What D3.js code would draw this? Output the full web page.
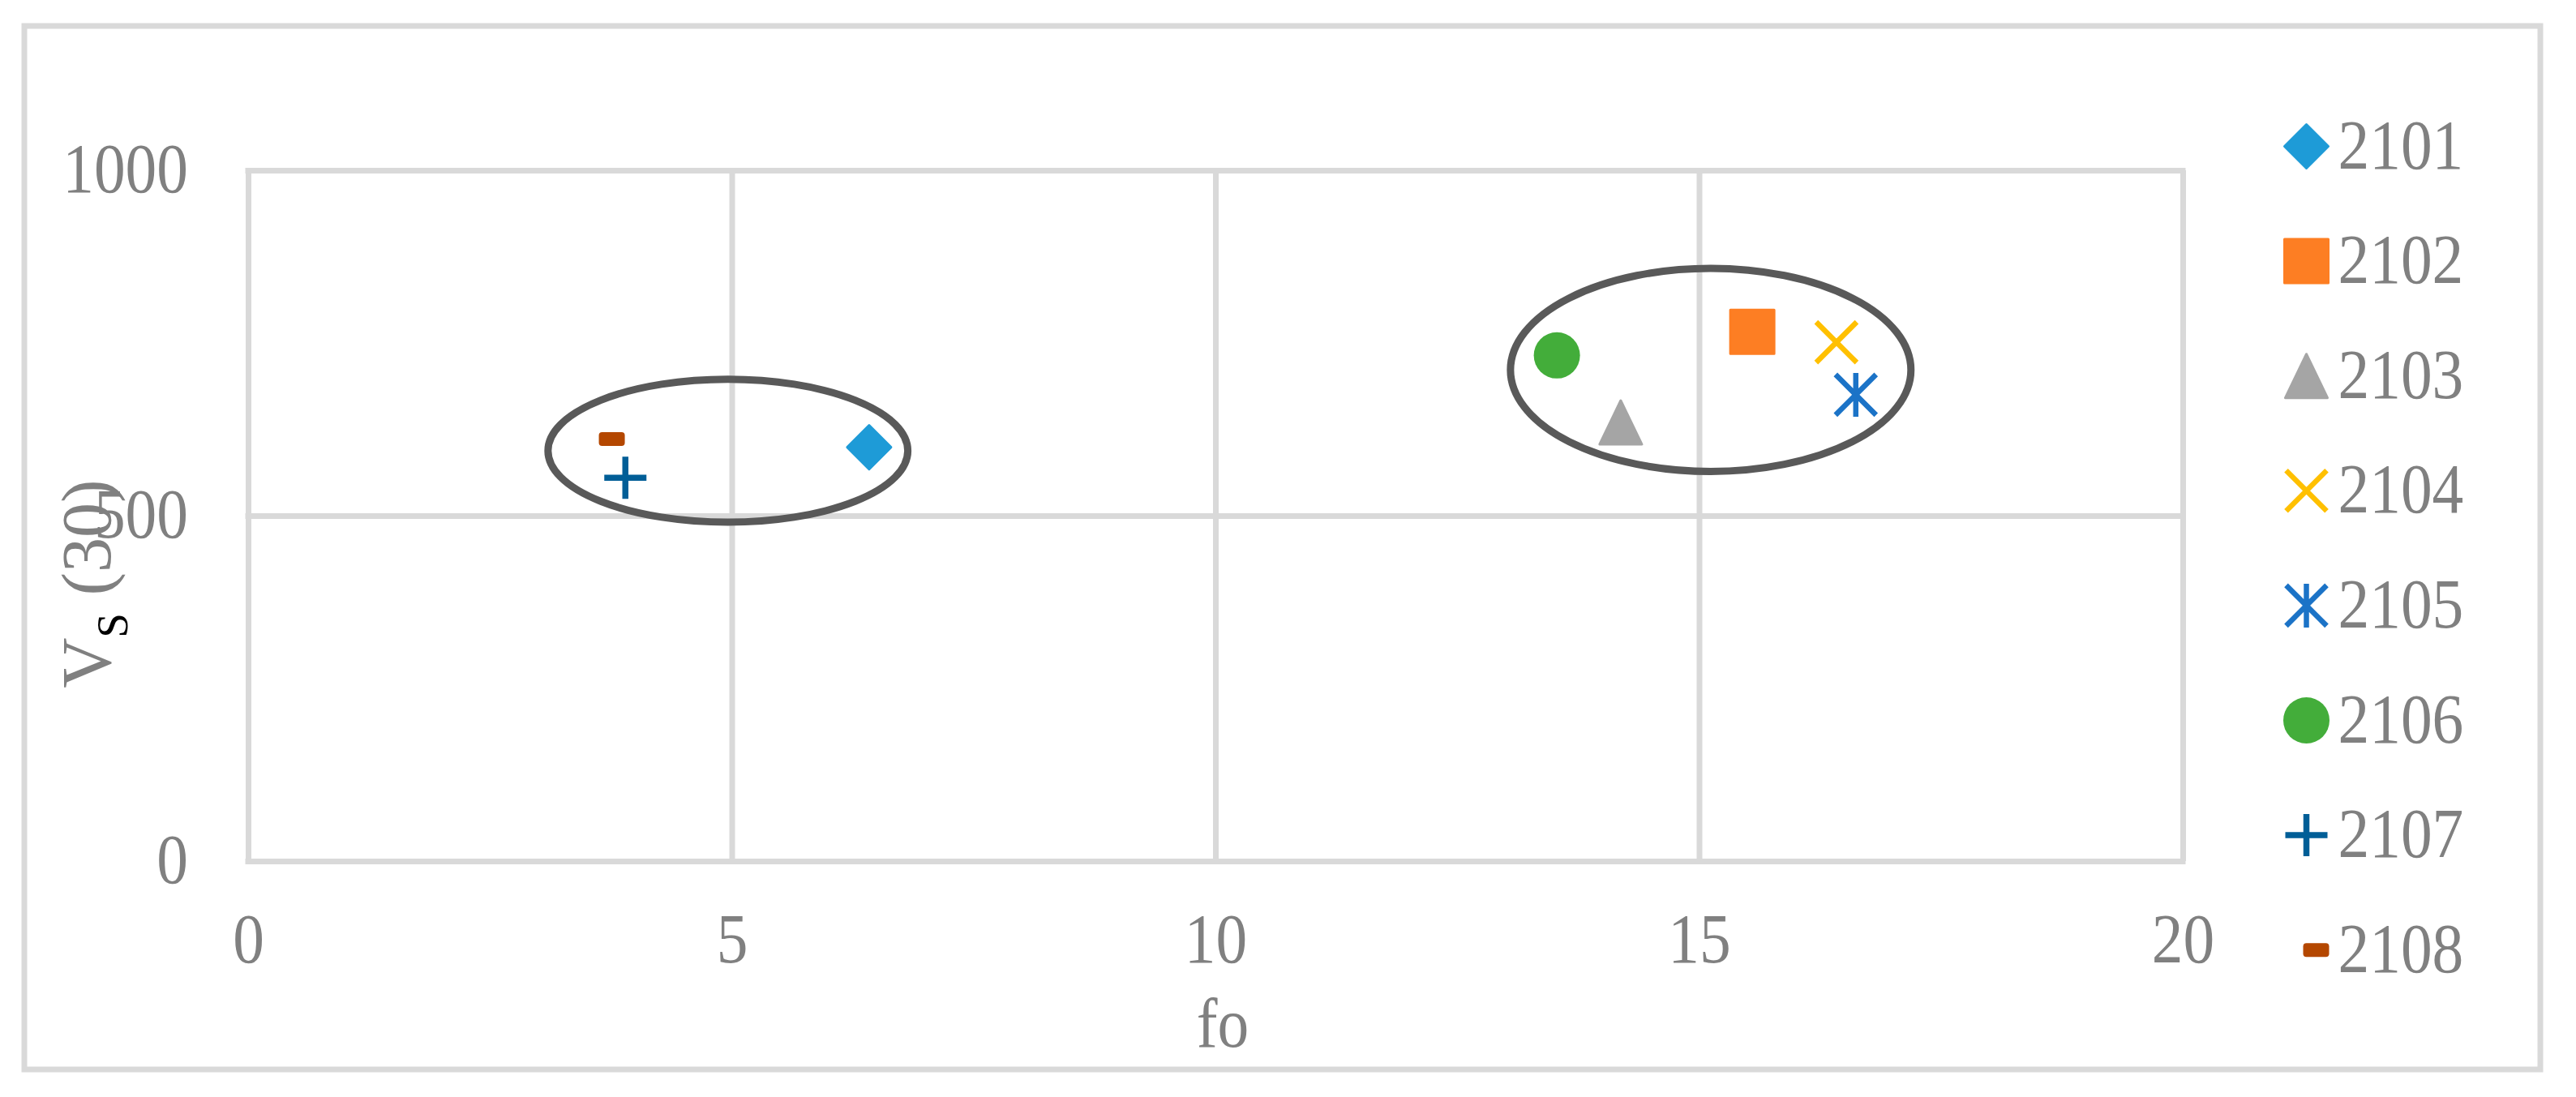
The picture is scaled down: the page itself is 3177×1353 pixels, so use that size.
<!DOCTYPE html>
<html>
<head>
<meta charset="utf-8">
<script src="https://cdn.jsdelivr.net/npm/d3@7"></script>
<style>
  html, body { margin: 0; padding: 0; background: #fff; }
  svg { display: block; }
</style>
</head>
<body>
<script>
// ---- data ----
const series = ["2101", "2102", "2103", "2104", "2105", "2106", "2107", "2108"];
const markerTypes = ["diamond", "square", "triangle", "x", "asterisk", "circle", "plus", "dash"];
const colors = ["#1e9bd7", "#fd7e23", "#a5a5a5", "#ffc000", "#1b73c7", "#43ad3a", "#005e97", "#b44700"];
const fo = [6.42, 15.55, 14.19, 16.42, 16.62, 13.53, 3.90, 3.76];
const vs30 = [599, 766, 635, 751, 675, 732, 555, 611];
const xTicks = [0, 5, 10, 15, 20];
const yTicks = [0, 500, 1000];
// cluster ellipses (data units)
const clusterFo = [4.96, 15.12];
const clusterVs = [594, 711];
const clusterFoRadius = [1.86, 2.07];
const clusterVsRadius = [103.5, 147];

// ---- layout ----
const W = 3177, H = 1353;
const plotL = 306, plotR = 2692, plotT = 210, plotB = 1062;
const FONT = "'Liberation Serif', 'Times New Roman', serif";
const GRAY = "#808080";
const GRID = "#d9d9d9";
const FS = 86;

const x = d3.scaleLinear().domain([0, 20]).range([plotL, plotR]);
const y = d3.scaleLinear().domain([0, 1000]).range([plotB, plotT]);

const svg = d3.select("body").append("svg").attr("width", W).attr("height", H);
svg.append("rect").attr("width", W).attr("height", H).attr("fill", "#fff");

// outer border
svg.append("rect").attr("x", 30).attr("y", 32).attr("width", 3103).attr("height", 1287)
  .attr("fill", "none").attr("stroke", GRID).attr("stroke-width", 7);

// x axis with vertical gridlines
const gx = svg.append("g").attr("transform", `translate(0,${plotB})`)
  .call(d3.axisBottom(x).tickValues(xTicks).tickSize(-(plotB - plotT)).tickPadding(0).tickFormat(d3.format("d")));
gx.select(".domain").remove();
gx.selectAll(".tick line").attr("stroke", GRID).attr("stroke-width", 7);
gx.selectAll(".tick text")
  .attr("y", 1187 - plotB).attr("dy", 0)
  .attr("transform", "scale(0.9,1)")
  .attr("fill", GRAY).attr("font-family", FONT).attr("font-size", FS);

// y axis with horizontal gridlines
const gy = svg.append("g").attr("transform", `translate(${plotL},0)`)
  .call(d3.axisLeft(y).tickValues(yTicks).tickSize(-(plotR - plotL)).tickPadding(0).tickFormat(d3.format("d")));
gy.select(".domain").remove();
gy.selectAll(".tick line").attr("stroke", GRID).attr("stroke-width", 7).attr("stroke-linecap", "square");
gy.selectAll(".tick text")
  .attr("x", 0).attr("y", 26).attr("dy", 0)
  .attr("text-anchor", "end")
  .attr("transform", `translate(${232 - plotL},0) scale(0.9,1)`)
  .attr("fill", GRAY).attr("font-family", FONT).attr("font-size", FS);

// axis titles
svg.append("text").attr("transform", `translate(1508,1291) scale(0.9,1)`)
  .attr("text-anchor", "middle").attr("fill", GRAY)
  .attr("font-family", FONT).attr("font-size", FS).text("fo");

const yt = svg.append("text").attr("transform", "translate(136,720) rotate(-90)")
  .attr("text-anchor", "middle").attr("font-family", FONT).attr("font-size", FS);
yt.append("tspan").attr("fill", GRAY).text("V");
yt.append("tspan").attr("fill", "#000").attr("font-size", 55).attr("dy", 21).text("S");
yt.append("tspan").attr("fill", GRAY).attr("dy", -21).text(" (30)");

// cluster ellipses
svg.append("g").selectAll("ellipse").data(clusterFo).join("ellipse")
  .attr("cx", (d) => x(d))
  .attr("cy", (d, i) => y(clusterVs[i]))
  .attr("rx", (d, i) => x(d + clusterFoRadius[i]) - x(d))
  .attr("ry", (d, i) => y(clusterVs[i]) - y(clusterVs[i] + clusterVsRadius[i]))
  .attr("fill", "none").attr("stroke", "#595959").attr("stroke-width", 9);

// marker drawing
function drawMarker(g, type, color) {
  switch (type) {
    case "diamond":
      g.append("path").attr("d", "M0,-27L27,0L0,27L-27,0Z")
        .attr("fill", color).attr("stroke", color).attr("stroke-width", 3).attr("stroke-linejoin", "round");
      break;
    case "square":
      g.append("rect").attr("x", -27).attr("y", -27).attr("width", 54).attr("height", 54)
        .attr("fill", color).attr("stroke", color).attr("stroke-width", 3).attr("stroke-linejoin", "round");
      break;
    case "triangle":
      g.append("path").attr("d", "M0,-27L26,27L-26,27Z")
        .attr("fill", color).attr("stroke", color).attr("stroke-width", 3).attr("stroke-linejoin", "round");
      break;
    case "circle":
      g.append("circle").attr("r", 28.5).attr("fill", color);
      break;
    case "x":
      g.append("path").attr("d", "M-25,-25L25,25M-25,25L25,-25")
        .attr("stroke", color).attr("stroke-width", 6.5).attr("fill", "none");
      break;
    case "asterisk":
      g.append("path").attr("d", "M-25,-25L25,25M-25,25L25,-25M0,-27L0,27")
        .attr("stroke", color).attr("stroke-width", 6.5).attr("fill", "none");
      break;
    case "plus":
      g.append("path").attr("d", "M-26,0L26,0M0,-26L0,26")
        .attr("stroke", color).attr("stroke-width", 7.5).attr("fill", "none");
      break;
    case "dash":
      g.append("rect").attr("x", -16).attr("y", -8.5).attr("width", 32).attr("height", 17).attr("rx", 4)
        .attr("fill", color);
      break;
  }
}

// points
const pts = svg.append("g");
series.forEach((s, i) => {
  const g = pts.append("g").attr("transform", `translate(${x(fo[i])},${y(vs30[i])})`);
  drawMarker(g, markerTypes[i], colors[i]);
});

// legend
const legend = svg.append("g");
series.forEach((s, i) => {
  const row = legend.append("g").attr("transform", `translate(2844.5,${180.5 + i * 141.6})`);
  const mg = row.append("g").attr("transform", markerTypes[i] === "dash" ? "translate(12,0)" : null);
  drawMarker(mg, markerTypes[i], colors[i]);
  row.append("text").attr("transform", "translate(39,27) scale(0.9,1)")
    .attr("fill", GRAY).attr("font-family", FONT).attr("font-size", FS).text(s);
});
</script>
</body>
</html>
